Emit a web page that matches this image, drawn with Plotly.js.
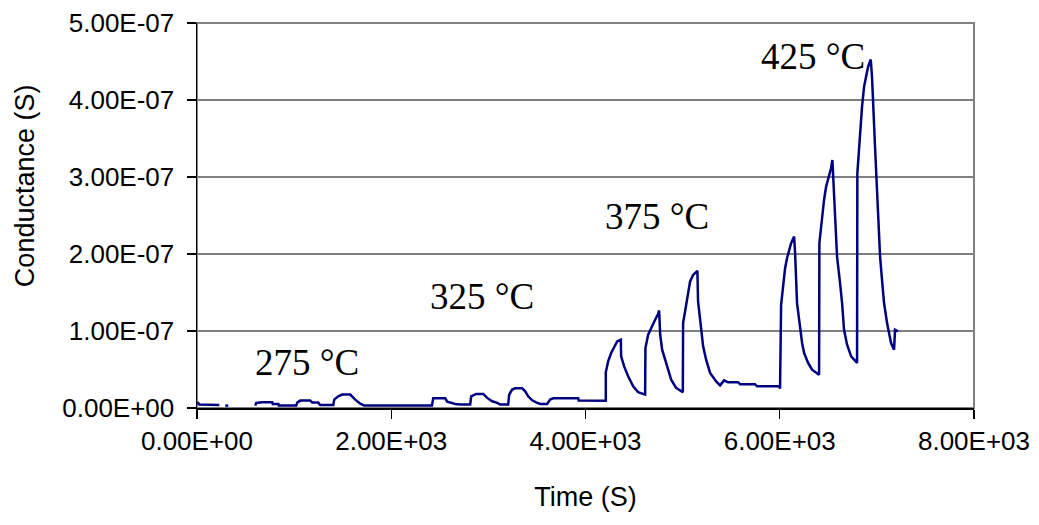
<!DOCTYPE html>
<html>
<head>
<meta charset="utf-8">
<script src="https://cdn.plot.ly/plotly-3.0.1.min.js"></script>
<style>html,body{margin:0;padding:0;background:#fff;}#chart{width:1039px;height:525px;}</style>
</head>
<body>
<div id="chart"></div>
<script>
// Time (s)
const timeS = [3,24,230,null,291,322,null,600,610,672,775,780,838,842,1022,1032,1063,1166,1187,1248,1269,1403,1413,1454,1495,1578,1629,1681,1722,
  2419,2432,2556,2576,2659,2710,2813,2823,2875,2947,2988,3039,3091,3122,3204,3214,3245,3276,3348,3379,3410,3451,3492,3533,3605,3636,3667,3925,3930,
  4209,4209,4233,4264,4295,4326,4364,4367,4398,4439,4491,4542,4614,4617,4645,4686,4717,4748,4758,4769,4789,4841,4882,4933,5002,5005,5036,5057,5077,5108,5152,5159,5190,5211,5242,5283,5345,5386,5427,5468,5571,5592,5746,5767,5993,
  6003,6014,6034,6055,6075,6096,6117,6148,6158,6178,6199,6230,6251,6292,6333,6405,6408,6436,6456,6477,6508,6528,6542,6549,6569,6590,6621,6642,6662,6693,6735,6796,
  6799,6827,6847,6868,6889,6909,6937,6950,6981,7002,7033,7053,7074,7105,7125,7146,7177,7187,7218];
// Conductance (nS)
const conductanceNS = [7.6,4.4,3.8,null,3.1,3.1,null,3.1,6.6,7.4,7.4,5.3,5.3,3.1,3.1,7.0,9.6,9.6,7.0,7.0,3.8,3.8,10.9,15.2,17.4,17.4,10.9,5.7,3.1,
  3.1,12.6,12.6,8.3,5.3,4.4,4.4,15.2,18.3,18.3,13.1,8.7,6.6,4.4,4.4,17.4,23.9,25.5,25.5,21.6,15.2,10.0,7.4,5.3,5.3,10.9,12.6,12.6,9.6,
  9.4,46.3,60.5,71.4,80.0,86.5,88.7,67.0,54.1,41.1,28.1,20.4,17.4,77.9,95.2,105.1,114.6,122.4,126.7,95.2,75.7,54.1,36.8,26.1,20.4,110.3,136.3,153.5,164.3,172.9,178.1,138.3,99.4,80.0,62.7,45.5,34.6,29.4,35.9,33.3,33.3,30.7,30.7,28.1,28.1,
  25.2,134.0,162.2,181.6,194.6,205.3,214.0,222.6,201.1,136.3,114.6,84.4,71.4,58.5,49.8,43.3,214.0,248.5,270.2,287.4,300.4,311.3,322.0,300.4,237.8,196.7,162.2,136.3,101.6,82.2,67.0,58.5,
  304.8,360.9,391.1,417.1,432.2,443.0,452.6,430.0,339.3,280.9,196.7,166.5,136.3,110.3,97.4,84.4,75.7,101.6,99.4];

const xTickVals = [0,2000,4000,6000,8000];
const xTickText = ['0.00E+00','2.00E+03','4.00E+03','6.00E+03','8.00E+03'];
const yTickVals = [0,1e-7,2e-7,3e-7,4e-7,5e-7];
const yTickText = ['0.00E+00','1.00E-07','2.00E-07','3.00E-07','4.00E-07','5.00E-07'];

const labelText = ['275 °C','325 °C','375 °C','425 °C'];
const labelTime = [1132,2936,4737,6340];
const labelCond = [58.9e-9,144.8e-9,248.5e-9,456.8e-9];

const conductanceS = conductanceNS.map(v => v === null ? null : v * 1e-9);

const trace = {
  x: timeS, y: conductanceS, type: 'scatter', mode: 'lines',
  line: {color: '#000080', width: 2.5}, connectgaps: false, hoverinfo: 'skip'
};

const tickFont = {family: 'Liberation Sans, Arial, sans-serif', size: 26, color: '#000'};
const titleFont = {family: 'Liberation Sans, Arial, sans-serif', size: 27, color: '#000'};

const annotations = labelText.map((t, i) => ({
  text: t, x: labelTime[i], y: labelCond[i], xref: 'x', yref: 'y',
  showarrow: false, xanchor: 'center', yanchor: 'middle',
  font: {family: 'Liberation Serif, Times New Roman, serif', size: 37, color: '#000'}
}));
annotations.push({
  text: 'Conductance (S)', xref: 'paper', yref: 'paper', x: -0.221, y: 0.577,
  textangle: -90, showarrow: false, xanchor: 'center', yanchor: 'middle', font: titleFont
});

const layout = {
  width: 1039, height: 525,
  margin: {l: 197, r: 65, t: 23, b: 117},
  paper_bgcolor: '#fff', plot_bgcolor: '#fff',
  showlegend: false,
  xaxis: {
    range: [0, 8000], tickvals: xTickVals, ticktext: xTickText,
    ticks: 'outside', ticklen: 9, tickwidth: 1.3, tickcolor: '#000',
    showline: true, linecolor: '#000', linewidth: 1.5,
    showgrid: false, zeroline: false, tickfont: tickFont,
    title: {text: 'Time (S)', font: titleFont, standoff: 32}
  },
  yaxis: {
    range: [0, 5e-7], tickvals: yTickVals, ticktext: yTickText,
    ticks: 'outside', ticklen: 9, tickwidth: 1.3, tickcolor: '#000',
    ticklabelstandoff: 7,
    showline: true, linecolor: '#000', linewidth: 1.5,
    showgrid: true, gridcolor: '#808080', gridwidth: 1.3, zeroline: false,
    tickfont: tickFont
  },
  shapes: [{type: 'rect', xref: 'paper', yref: 'paper', x0: 0, x1: 1, y0: 0, y1: 1,
            line: {color: '#808080', width: 2}, layer: 'below'}],
  annotations: annotations
};

Plotly.newPlot('chart', [trace], layout, {displayModeBar: false, staticPlot: true});
</script>
</body>
</html>
